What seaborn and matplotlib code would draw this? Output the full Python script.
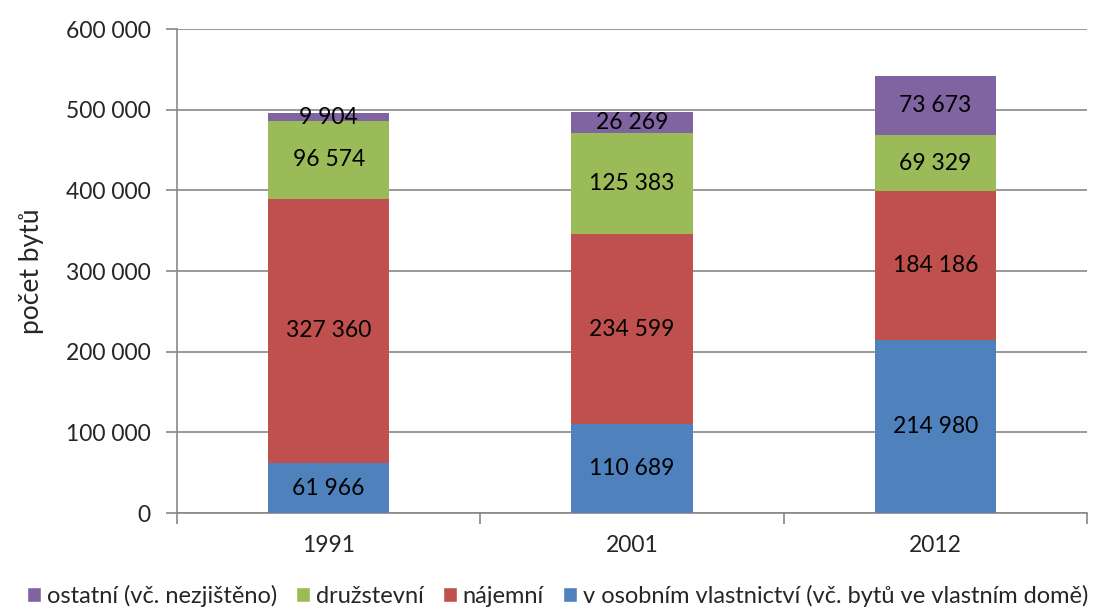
import matplotlib
matplotlib.use("Agg")
import matplotlib.pyplot as plt
import seaborn as sns
import numpy as np
import pandas as pd
from matplotlib.ticker import FuncFormatter, FixedLocator
from matplotlib.patches import Patch

years = ["1991", "2001", "2012"]
osobni = [61966, 110689, 214980]
najemni = [327360, 234599, 184186]
druzstevni = [96574, 125383, 69329]
ostatni = [9904, 26269, 73673]

series_names = ["v osobním vlastnictví (vč. bytů ve vlastním domě)", "nájemní", "družstevní", "ostatní (vč. nezjištěno)"]
series_vals = [osobni, najemni, druzstevni, ostatni]
colors = ["#4F81BD", "#C0504D", "#9BBB59", "#8064A2"]

sns.set_theme(style="white")
plt.rcParams['font.family'] = ['Lato', 'DejaVu Sans']

fig = plt.figure(figsize=(11.15, 6.10), dpi=100)
ax = fig.add_axes([177/1115, 1-513/610, (1087-177)/1115, (513-29)/610])

cum = np.cumsum(np.array(series_vals), axis=0)
for i in range(len(series_vals)-1, -1, -1):
    df = pd.DataFrame({"year": years, "value": cum[i]})
    sns.barplot(data=df, x="year", y="value", color=colors[i], width=0.4,
                saturation=1, ax=ax, zorder=3, linewidth=0)

for i, vals in enumerate(series_vals):
    bottoms = cum[i] - np.array(vals)
    for j, v in enumerate(vals):
        lbl = f"{v:,}".replace(",", " ")
        ax.text(j, bottoms[j] + v/2, lbl, ha="center", va="center", fontsize=16.5, color="black", zorder=5)

ax.set_ylim(0, 600000)
ax.set_xlim(-0.5, 2.5)
ax.yaxis.set_major_locator(FixedLocator(np.arange(0, 600001, 100000)))
ax.yaxis.set_major_formatter(FuncFormatter(lambda v, p: f"{int(v):,}".replace(",", " ")))
ax.grid(axis="y", color="#888888", linewidth=1.2, zorder=0)
ax.set_axisbelow(True)
for s in ["top", "right"]:
    ax.spines[s].set_visible(False)
for s in ["left", "bottom"]:
    ax.spines[s].set_color("#888888")
    ax.spines[s].set_linewidth(1.2)
ax.tick_params(axis="y", which="major", left=True, length=8, width=1.2, color="#888888", labelsize=16.5, pad=11)
ax.tick_params(axis="x", which="major", bottom=False, labelsize=16.5, pad=10)
ax.set_xticks([-0.5, 0.5, 1.5, 2.5], minor=True)
ax.tick_params(axis="x", which="minor", bottom=True, length=8, width=1.2, color="#888888")
ax.set_xlabel("")
ax.set_ylabel("počet bytů", fontsize=19, labelpad=16)

handles = [Patch(facecolor=colors[i], label=series_names[i]) for i in [3, 2, 1, 0]]
fig.legend(handles=handles, loc="center", bbox_to_anchor=(0.5, 1-596/610), ncol=4, frameon=False,
           fontsize=17, handlelength=0.6, handleheight=0.6, handletextpad=0.25, columnspacing=0.8)

fig.savefig("out.png", dpi=100)
